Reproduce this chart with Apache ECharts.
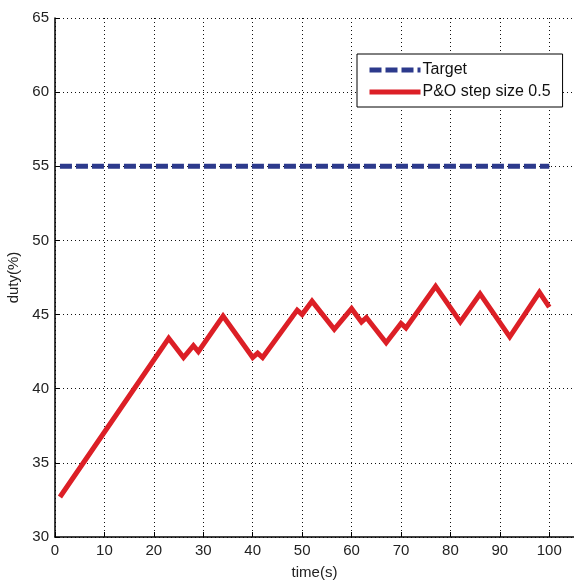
<!DOCTYPE html>
<html>
<head>
<meta charset="utf-8">
<script src="https://cdn.jsdelivr.net/npm/echarts@6/dist/echarts.min.js"></script>
<style>
html,body{margin:0;padding:0;background:#fff;}
#chart{width:574px;height:585px;}
</style>
</head>
<body>
<div id="chart"></div>
<script>
// Data
var poTime = [1, 23, 26, 28, 29, 34, 40, 41, 42, 49, 50, 52, 56.5, 60, 62, 63, 67, 70, 71, 77, 82, 86, 92, 98, 100];
var poDuty = [32.7, 43.4, 42.1, 42.9, 42.5, 44.9, 42.1, 42.4, 42.1, 45.3, 45.0, 45.9, 44.0, 45.4, 44.5, 44.8, 43.1, 44.4, 44.1, 46.9, 44.5, 46.4, 43.5, 46.5, 45.5];
var targetTime = [1, 100];
var targetDuty = [55, 55];
var xTicks = [0, 10, 20, 30, 40, 50, 60, 70, 80, 90, 100];
var yTicks = [30, 35, 40, 45, 50, 55, 60, 65];
var seriesNames = ['Target', 'P&O step size 0.5'];

function pairs(xs, ys) { return xs.map(function (x, i) { return [x, ys[i]]; }); }

var FONT = 'Liberation Sans, Arial, sans-serif';
var chart = echarts.init(document.getElementById('chart'), null, {renderer: 'canvas'});
var gridLine = {show: true, lineStyle: {color: '#111', width: 1, type: [1, 3]}};
chart.setOption({
  animation: false,
  backgroundColor: '#fff',
  grid: {left: 55, top: 18, right: 0, bottom: 48, containLabel: false, outerBoundsMode: 'none'},
  xAxis: {
    type: 'value', min: 0, max: 105, interval: 10,
    name: 'time(s)', nameLocation: 'middle', nameGap: 28,
    nameTextStyle: {fontFamily: FONT, fontSize: 15, color: '#222'},
    axisLine: {show: true, onZero: false, lineStyle: {color: '#000', width: 1.5}},
    axisTick: {show: true, inside: true, length: 5, lineStyle: {color: '#000'}},
    axisLabel: {fontFamily: FONT, fontSize: 15, color: '#222', margin: 6, showMaxLabel: false,
      formatter: function (v) { return xTicks.indexOf(v) >= 0 ? String(v) : ''; }},
    splitLine: gridLine
  },
  yAxis: {
    type: 'value', min: 30, max: 65, interval: 5,
    name: 'duty(%)', nameLocation: 'middle', nameGap: 33, nameRotate: 90,
    nameTextStyle: {fontFamily: FONT, fontSize: 15, color: '#222'},
    axisLine: {show: true, onZero: false, lineStyle: {color: '#000', width: 1.5}},
    axisTick: {show: true, inside: true, length: 5, lineStyle: {color: '#000'}},
    axisLabel: {fontFamily: FONT, fontSize: 15, color: '#222', margin: 6,
      formatter: function (v) { return yTicks.indexOf(v) >= 0 ? String(v) : ''; }},
    splitLine: gridLine
  },
  legend: {
    orient: 'vertical', left: 357, top: 54,
    backgroundColor: '#fff', borderColor: '#000', borderWidth: 1,
    padding: [8, 12, 7, 10], itemGap: 6, itemWidth: 51, itemHeight: 16,
    textStyle: {fontFamily: FONT, fontSize: 16, color: '#111', padding: [0, 0, 0, -3]},
    lineStyle: {width: 5},
    itemStyle: {color: 'transparent', borderWidth: 0, opacity: 0},
    data: seriesNames
  },
  series: [
    {
      name: seriesNames[0], type: 'line', symbol: 'none',
      data: pairs(targetTime, targetDuty),
      lineStyle: {color: '#2c3a8c', width: 5, type: [12, 4], cap: 'butt'},
      itemStyle: {color: '#2c3a8c'}
    },
    {
      name: seriesNames[1], type: 'line', symbol: 'none',
      data: pairs(poTime, poDuty),
      lineStyle: {color: '#dc1f26', width: 5, join: 'miter'},
      itemStyle: {color: '#dc1f26'}
    }
  ]
});
</script>
</body>
</html>
